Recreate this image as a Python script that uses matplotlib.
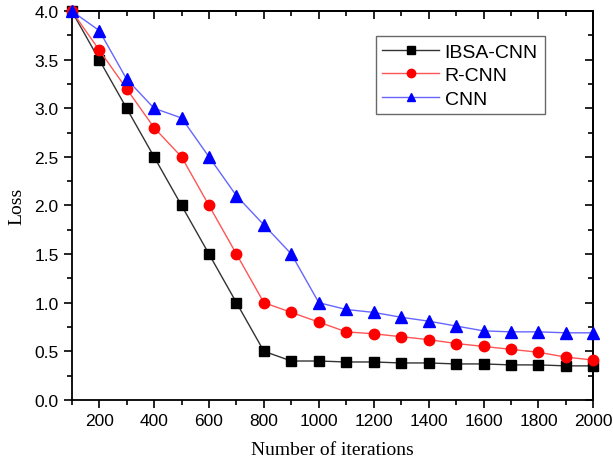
import matplotlib.pyplot as plt
from matplotlib.ticker import MultipleLocator

iterations = [100, 200, 300, 400, 500, 600, 700, 800, 900, 1000,
              1100, 1200, 1300, 1400, 1500, 1600, 1700, 1800, 1900, 2000]
ibsa_cnn = [4.0, 3.5, 3.0, 2.5, 2.0, 1.5, 1.0, 0.5, 0.4, 0.4,
            0.39, 0.39, 0.38, 0.38, 0.37, 0.37, 0.36, 0.36, 0.35, 0.35]
r_cnn = [4.0, 3.6, 3.2, 2.8, 2.5, 2.0, 1.5, 1.0, 0.9, 0.8,
         0.7, 0.68, 0.65, 0.62, 0.58, 0.55, 0.52, 0.49, 0.44, 0.41]
cnn = [4.0, 3.8, 3.3, 3.0, 2.9, 2.5, 2.1, 1.8, 1.5, 1.0,
       0.93, 0.9, 0.85, 0.81, 0.76, 0.71, 0.70, 0.70, 0.69, 0.69]

plt.rcParams['font.family'] = ['Liberation Sans', 'DejaVu Sans']

fig = plt.figure(figsize=(6.13, 4.64), dpi=100)
ax = fig.add_axes([0.117, 0.136, 0.851, 0.838])

ax.plot(iterations, ibsa_cnn, color='#333333', lw=1, marker='s', ms=6.5,
        mfc='black', mec='black', label='IBSA-CNN', clip_on=False, zorder=3)
ax.plot(iterations, r_cnn, color='#ff5555', lw=1, marker='o', ms=7.5,
        mfc='red', mec='red', label='R-CNN', clip_on=False, zorder=3)
ax.plot(iterations, cnn, color='#6666ff', lw=1, marker='^', ms=8,
        mfc='blue', mec='blue', label='CNN', clip_on=False, zorder=3)

ax.set_xlim(100, 2000)
ax.set_ylim(0, 4.0)
ax.xaxis.set_major_locator(MultipleLocator(200))
ax.xaxis.set_minor_locator(MultipleLocator(100))
ax.yaxis.set_major_locator(MultipleLocator(0.5))
ax.yaxis.set_minor_locator(MultipleLocator(0.25))
ax.yaxis.set_major_formatter(plt.FuncFormatter(lambda v, p: f'{v:.1f}'))

ax.tick_params(which='both', direction='out', labelsize=12.5, width=1.2)
ax.tick_params(which='major', length=6)
ax.tick_params(which='minor', length=3.5)

# mirrored inward ticks on top and right
axt = ax.secondary_xaxis('top')
axt.xaxis.set_major_locator(MultipleLocator(200))
axt.xaxis.set_minor_locator(MultipleLocator(100))
axt.tick_params(which='both', direction='in', labeltop=False, width=1.2)
axt.tick_params(which='major', length=6)
axt.tick_params(which='minor', length=3.5)
axr = ax.secondary_yaxis('right')
axr.yaxis.set_major_locator(MultipleLocator(0.5))
axr.yaxis.set_minor_locator(MultipleLocator(0.25))
axr.tick_params(which='both', direction='in', labelright=False, width=1.2)
axr.tick_params(which='major', length=6)
axr.tick_params(which='minor', length=3.5)

for s in ax.spines.values():
    s.set_linewidth(1.3)
axt.spines['top'].set_linewidth(1.3)
axr.spines['right'].set_linewidth(1.3)

ax.set_xlabel('Number of iterations', family='Liberation Serif', fontsize=14, labelpad=9)
ax.set_ylabel('Loss', family='Liberation Serif', fontsize=14, labelpad=6)

leg = ax.legend(loc='upper right', bbox_to_anchor=(0.925, 0.96), fontsize=14,
                frameon=True, fancybox=False, edgecolor='#444444',
                handlelength=2.9, borderpad=0.35, labelspacing=0.3, handletextpad=0.3,
                markerscale=0.8)
leg.get_frame().set_linewidth(1.0)

plt.savefig('out.png', dpi=100)
plt.close()
